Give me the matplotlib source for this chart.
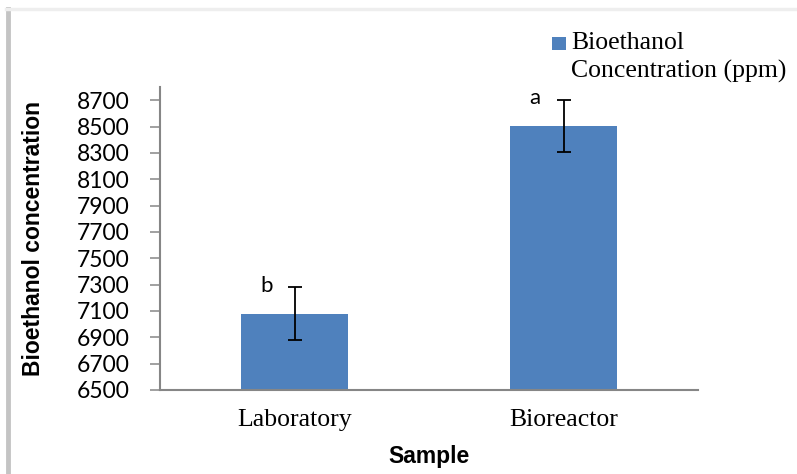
import matplotlib
matplotlib.use("Agg")
import matplotlib.pyplot as plt
from matplotlib.lines import Line2D
from matplotlib.patches import Rectangle
from matplotlib import font_manager

categories = ["Laboratory", "Bioreactor"]
values = [7080, 8505]
errors = [200, 200]
letters = ["b", "a"]
yticks = [6500, 6700, 6900, 7100, 7300, 7500, 7700, 7900, 8100, 8300, 8500, 8700]
legend_label = "Bioethanol\nConcentration (ppm)"

bar_color = "#4F81BD"
axis_gray = "#868686"

names = {f.name for f in font_manager.fontManager.ttflist}
if "Liberation Sans Narrow" in names:
    title_font, title_size = "Liberation Sans Narrow", 20
else:
    title_font, title_size = "Liberation Sans", 16.5

fig = plt.figure(figsize=(7.97, 4.74), dpi=100)
ax = fig.add_axes([160/797, 1-390/474, (698-160)/797, (390-87)/474])

x = list(range(len(categories)))
ax.bar(x, values, width=0.4, color=bar_color, zorder=2)
ax.errorbar(x, values, yerr=errors, fmt="none", ecolor="black",
            elinewidth=1.3, capsize=5, capthick=1.3, zorder=3)

for xi, v, e, lab in zip(x, values, errors, letters):
    ax.text(xi - 0.105, v + e - 35, lab, ha="center", va="baseline",
            fontsize=16, family="Lato", color="black")

ax.set_xlim(-0.5, 1.5)
ax.set_ylim(6500, 8800)
ax.set_yticks(yticks)
ax.set_yticklabels([str(t) for t in yticks], fontsize=16.5, family="Lato")
ax.set_xticks(x)
ax.set_xticklabels(categories, fontsize=18.5, family="Liberation Serif")
ax.tick_params(axis="x", length=0, pad=14)
ax.tick_params(axis="y", length=7, width=1.1, color=axis_gray, direction="out", pad=15)

for s in ["top", "right"]:
    ax.spines[s].set_visible(False)
for s in ["left", "bottom"]:
    ax.spines[s].set_color(axis_gray)
    ax.spines[s].set_linewidth(1.5)

ax.set_xlabel("Sample", fontsize=title_size, fontweight="bold", family=title_font, labelpad=10)
ax.set_ylabel("Bioethanol concentration", fontsize=title_size, fontweight="bold",
              family=title_font)
ax.yaxis.set_label_coords(-0.213, 0.5)

# legend (handle aligned with first text line, as in the reference)
fig.add_artist(Rectangle((552/797, 1-50/474), 14/797, 13/474, transform=fig.transFigure,
                         facecolor=bar_color, edgecolor="none"))
fig.text(571/797, 1-32/474, legend_label, ha="left", va="top",
         family="Liberation Serif", fontsize=18.5, linespacing=1.36)

# outer frame lines
fig.add_artist(Line2D([8/797, 8/797], [0, 1-9/474], transform=fig.transFigure,
                      color="#c4c4c4", linewidth=3.5))
fig.add_artist(Line2D([6/797, 1], [1-9/474, 1-9/474], transform=fig.transFigure,
                      color="#eeeeee", linewidth=2.5))

fig.savefig("out.png", dpi=100)
